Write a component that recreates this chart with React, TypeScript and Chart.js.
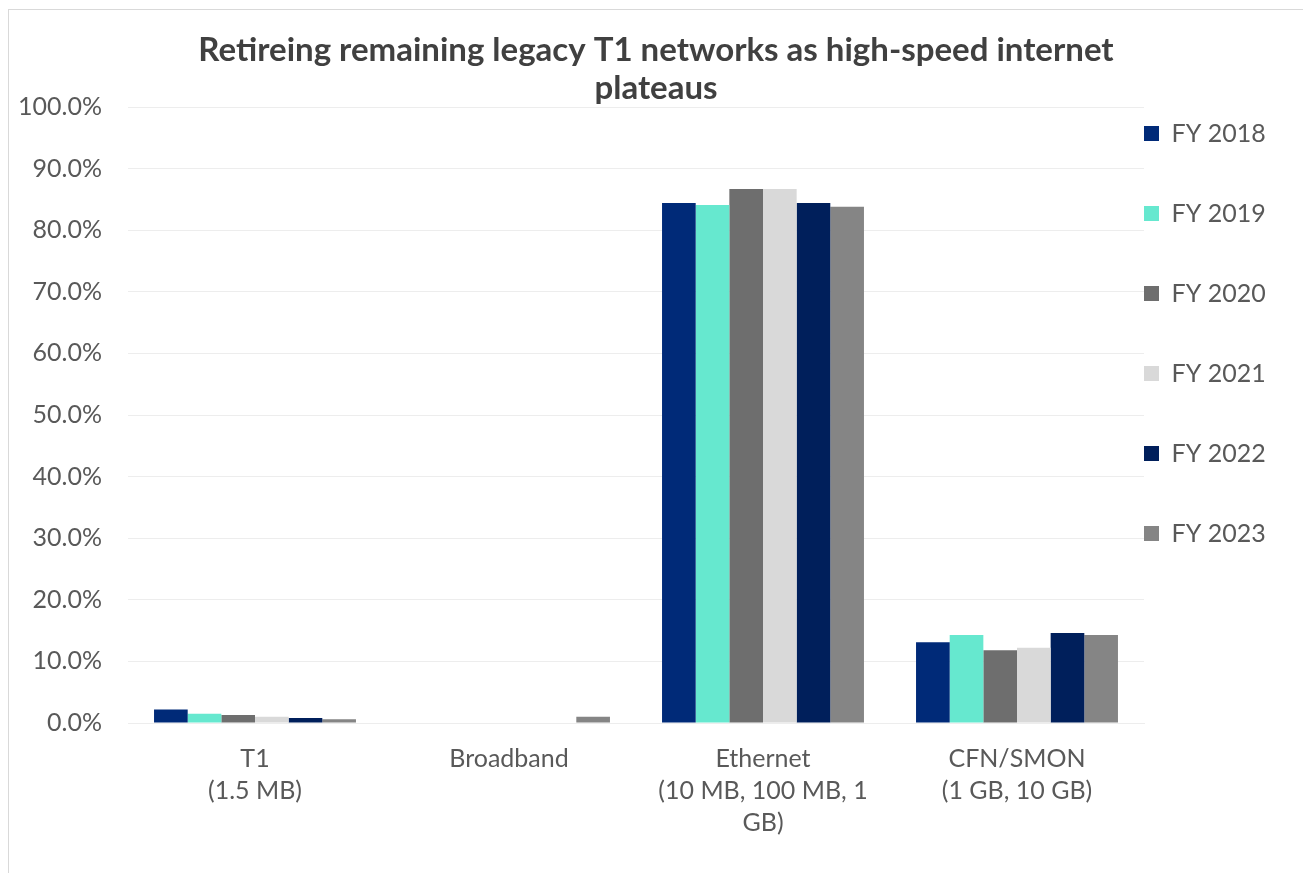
import React, { useEffect, useRef } from "react";
import { Chart, registerables } from "chart.js";

Chart.register(...registerables);

const categories: (string | string[])[] = [
  ["T1", "(1.5 MB)"],
  "Broadband",
  ["Ethernet", "(10 MB, 100 MB, 1", "GB)"],
  ["CFN/SMON", "(1 GB, 10 GB)"],
];

const seriesNames = ["FY 2018", "FY 2019", "FY 2020", "FY 2021", "FY 2022", "FY 2023"];

const fy2018 = [2.2, 0, 84.4, 13.1];
const fy2019 = [1.5, 0, 84.1, 14.3];
const fy2020 = [1.3, 0, 86.7, 11.8];
const fy2021 = [1.0, 0, 86.7, 12.2];
const fy2022 = [0.8, 0, 84.4, 14.6];
const fy2023 = [0.6, 1.0, 83.8, 14.3];

const seriesValues = [fy2018, fy2019, fy2020, fy2021, fy2022, fy2023];
const seriesColors = ["#002A78", "#66E8CF", "#6E6E6E", "#D9D9D9", "#001F5B", "#858585"];

const yTicks = [0, 10, 20, 30, 40, 50, 60, 70, 80, 90, 100];

const FONT = "Lato, 'Open Sans', sans-serif";

const legendShift = {
  id: "legendShift",
  beforeDraw(chart: any) {
    const lg = chart.legend;
    if (!lg) return;
    const pad = lg.options.labels.padding;
    lg.left = chart.chartArea.right - pad;
    lg.top = chart.chartArea.top + 14 - pad;
  },
};

export default function App() {
  const ref = useRef<HTMLCanvasElement>(null);
  useEffect(() => {
    if (!ref.current) return;
    const chart = new Chart(ref.current, {
      type: "bar",
      data: {
        labels: categories,
        datasets: seriesNames.map((name, i) => ({
          label: name,
          data: seriesValues[i],
          backgroundColor: seriesColors[i],
          borderWidth: 0,
          barPercentage: 1,
          categoryPercentage: 0.795,
        })),
      },
      options: {
        animation: false,
        responsive: true,
        maintainAspectRatio: false,
        layout: { padding: { left: 0, right: 0, top: 0, bottom: 14 } },
        plugins: {
          title: {
            display: true,
            text: ["Retireing remaining legacy T1 networks as high-speed internet", "plateaus"],
            color: "#404040",
            font: { family: FONT, size: 33, weight: "bold", lineHeight: 38 / 33 },
            padding: { top: 21, bottom: 0 },
          },
          legend: {
            display: true,
            position: "right",
            align: "start",
            maxWidth: 159,
            labels: {
              boxWidth: 15,
              boxHeight: 15,
              padding: 55,
              color: "#595959",
              font: { family: FONT, size: 25 },
            },
          },
          tooltip: { enabled: false },
        },
        scales: {
          x: {
            grid: { display: false, drawTicks: false },
            border: { display: true, color: "#EDEDED" },
            ticks: {
              color: "#595959",
              font: { family: FONT, size: 25, lineHeight: 32 / 25 },
              padding: 20,
              maxRotation: 0,
              autoSkip: false,
            },
          },
          y: {
            min: 0,
            max: 100,
            afterFit(scale: any) {
              scale.width = 119;
            },
            afterBuildTicks(scale: any) {
              scale.ticks = yTicks.map((v) => ({ value: v }));
            },
            grid: { color: "#EDEDED", drawTicks: false },
            border: { display: false },
            ticks: {
              color: "#595959",
              font: { family: FONT, size: 25 },
              padding: 26,
              callback: (v: any) => Number(v).toFixed(1) + "%",
            },
          },
        },
      },
      plugins: [legendShift],
    });
    return () => chart.destroy();
  }, []);

  return (
    <div
      style={{
        position: "fixed",
        left: 8,
        top: 9,
        width: 1295,
        height: 864,
        boxSizing: "border-box",
        borderTop: "1px solid #D9D9D9",
        borderLeft: "1px solid #D9D9D9",
        background: "#fff",
      }}
    >
      <div style={{ position: "relative", width: 1294, height: 863 }}>
        <canvas ref={ref} />
      </div>
    </div>
  );
}
